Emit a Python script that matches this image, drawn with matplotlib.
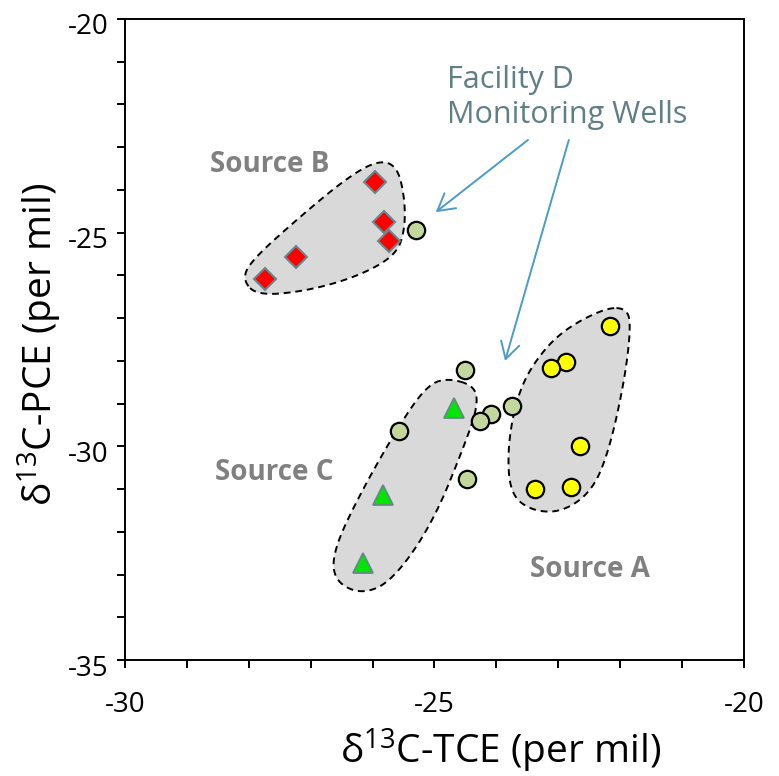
import numpy as np
import matplotlib
matplotlib.use("Agg")
import matplotlib.pyplot as plt
from matplotlib.transforms import ScaledTranslation

plt.rcParams['font.family'] = ['Open Sans', 'DejaVu Sans']
plt.rcParams['axes.unicode_minus'] = False

# Isotope data (per mil)
source_a_tce = [-22.16, -22.88, -23.11, -22.65, -23.38, -22.80]
source_a_pce = [-27.18, -28.03, -28.16, -30.00, -30.99, -30.94]

source_b_tce = [-27.74, -27.24, -25.96, -25.82, -25.74]
source_b_pce = [-26.09, -25.58, -23.82, -24.76, -25.19]

source_c_tce = [-24.68, -25.83, -26.16]
source_c_pce = [-29.10, -31.15, -32.74]

wells_tce = [-25.30, -24.51, -25.57, -24.09, -24.26, -23.74, -24.48]
wells_pce = [-24.94, -28.21, -29.65, -29.24, -29.41, -29.06, -30.77]

# Outline vertices of the source envelopes (corner-cut before drawing)
env_a_tce = [-22.23, -21.88, -21.83, -21.93, -22.17, -22.45, -22.95, -23.45, -23.78, -23.82, -23.68, -23.42, -22.95]
env_a_pce = [-26.75, -26.78, -27.25, -28.45, -30.05, -31.05, -31.55, -31.50, -31.10, -30.05, -28.90, -28.08, -27.30]

env_b_tce = [-28.10, -27.85, -27.01, -26.20, -25.62, -25.48, -25.48, -25.60, -25.90, -26.40, -27.20, -27.98]
env_b_pce = [-26.12, -26.48, -26.35, -26.00, -25.52, -24.94, -24.20, -23.45, -23.30, -23.70, -24.66, -25.68]

env_c_tce = [-24.80, -24.35, -24.30, -24.50, -25.03, -25.68, -26.18, -26.62, -26.64, -26.20, -25.54, -25.12]
env_c_pce = [-28.40, -28.58, -29.05, -29.92, -31.80, -33.15, -33.47, -33.15, -32.45, -31.10, -29.43, -28.58]

x_ticks = [-30, -25, -20]
y_ticks = [-35, -30, -25, -20]


def smooth_outline(ax, xs, ys, rounds=5):
    """Chaikin corner cutting of a closed outline, done in screen space."""
    p = ax.transData.transform(np.column_stack([xs, ys]))
    for _ in range(rounds):
        q = np.roll(p, -1, axis=0)
        p = np.stack([0.75 * p + 0.25 * q, 0.25 * p + 0.75 * q], axis=1).reshape(-1, 2)
    p = np.vstack([p, p[:1]])
    return ax.transData.inverted().transform(p)


fig = plt.figure(figsize=(7.79, 7.76), dpi=100)
ax = fig.add_axes([125 / 779, 1 - 660 / 776, 619 / 779, 641 / 776])
ax.set_xlim(-30, -20)
ax.set_ylim(-35, -20)

for ex, ey in [(env_a_tce, env_a_pce), (env_b_tce, env_b_pce), (env_c_tce, env_c_pce)]:
    c = smooth_outline(ax, ex, ey)
    ax.fill(c[:, 0], c[:, 1], facecolor='#d9d9d9', edgecolor='black',
            linewidth=1.4, linestyle=(0, (3.5, 2.5)), zorder=1)

ax.plot(wells_tce, wells_pce, 'o', ms=12.5, mfc='#c3d69b', mec='black', mew=1.6,
        zorder=3, linestyle='none')
ax.plot(source_a_tce, source_a_pce, 'o', ms=12.5, mfc='#ffff00', mec='black', mew=1.6,
        zorder=3, linestyle='none')
ax.plot(source_b_tce, source_b_pce, 'D', ms=11.5, mfc='#ff0000', mec='#66878c', mew=1.5,
        zorder=3, linestyle='none')
ax.plot(source_c_tce, source_c_pce, '^', ms=15, mfc='#00e600', mec='#66878c', mew=1.3,
        zorder=3, linestyle='none')

label_kw = dict(fontsize=20, fontweight='bold', color='#808080', ha='left', va='baseline')
ax.text(-28.63, -23.57, 'Source B', **label_kw)
ax.text(-28.55, -30.79, 'Source C', **label_kw)
ax.text(-23.46, -33.05, 'Source A', **label_kw)

ax.text(-24.80, -22.43, 'Facility D\nMonitoring Wells', fontsize=22, color='#5f7f86',
        ha='left', va='baseline', linespacing=1.2)

arrow_kw = dict(arrowstyle='->,head_length=1.19,head_width=0.68', color='#4b9cc6',
                lw=1.4, shrinkA=0, shrinkB=0, mutation_scale=10)
ax.annotate('', xy=(-24.98, -24.52), xytext=(-23.49, -22.83), arrowprops=arrow_kw)
ax.annotate('', xy=(-23.86, -28.00), xytext=(-22.83, -22.83), arrowprops=arrow_kw)

ax.set_xticks(x_ticks)
ax.set_yticks(y_ticks)
ax.set_xticks(np.arange(-30, -19, 1), minor=True)
ax.set_yticks(np.arange(-35, -19, 1), minor=True)
ax.tick_params(which='both', direction='out', length=6, width=1.4,
               top=False, right=False, labelsize=20)
ax.tick_params(axis='x', which='major', pad=16)
ax.tick_params(axis='y', which='major', pad=6)
for lab in ax.get_yticklabels():
    lab.set_transform(lab.get_transform() + ScaledTranslation(0, -5 / 100, fig.dpi_scale_trans))
for s in ax.spines.values():
    s.set_linewidth(1.4)

ax.set_xlabel('δ$^{\\mathregular{13}}$C-TCE (per mil)', fontsize=28, va='baseline')
ax.set_ylabel('δ$^{\\mathregular{13}}$C-PCE (per mil)', fontsize=28, va='center')
ax.xaxis.set_label_coords(0.606, (660 - 764) / 641)
ax.yaxis.set_label_coords((40 - 125) / 619, (660 - 344) / 641)

fig.savefig('out.png', dpi=100)
